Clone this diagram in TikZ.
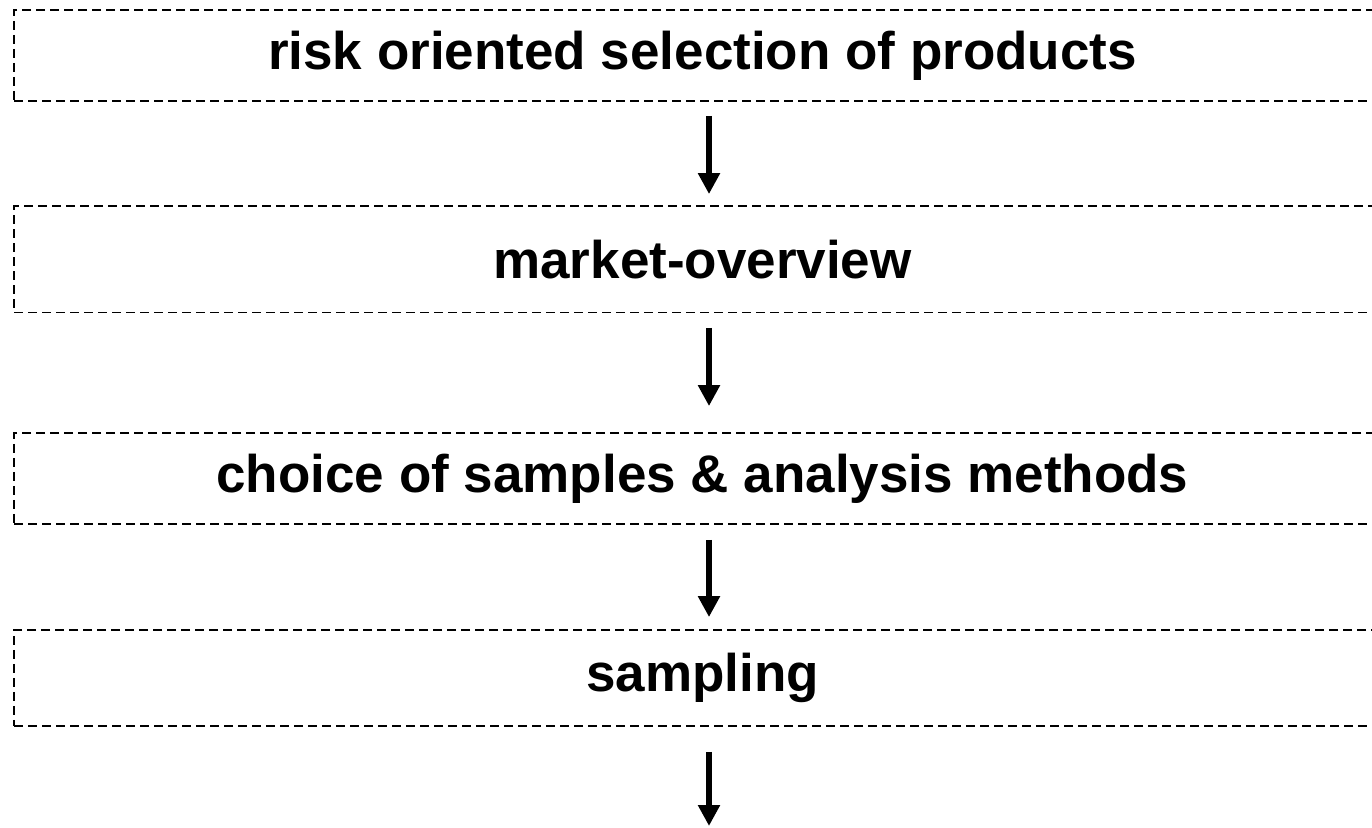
\documentclass[tikz,border=0pt]{standalone}
\usepackage{fontspec}
\setmainfont{Liberation Sans}
\usetikzlibrary{arrows.meta}

\begin{document}
\begin{tikzpicture}[x=1pt, y=1pt,
    box/.style={draw, line width=1.8pt, dash pattern=on 9pt off 5pt, minimum width=1377pt, inner sep=0pt,
        font=\fontsize{53}{60}\selectfont\bfseries},
    flow/.style={line width=6pt, -{Triangle[length=21pt, width=21pt]}}]

    % Seitenrahmen
    \useasboundingbox (0,0) rectangle (1372,827);

    % die vier Kaesten
    \node[box, minimum height=91pt] (b1) at (702.5,771.5) {risk oriented selection of products};
    \node[box, minimum height=106.5pt] (b2) at (702.5,567.75) {market-overview};
    \node[box, minimum height=91pt] (b3) at (702.5,348.5) {choice of samples \& analysis methods};
    \node[box, minimum height=96pt] (b4) at (702.5,149) {sampling};

    % Achse der Pfeile und Ende unten
    \coordinate (ax) at (709,0);
    \coordinate (bottom) at (709,1);

    % Pfeile
    \draw[flow, shorten <=14pt, shorten >=11pt] (b1.south -| ax) -- (b2.north -| ax);
    \draw[flow, shorten <=14.5pt, shorten >=26pt] (b2.south -| ax) -- (b3.north -| ax);
    \draw[flow, shorten <=15pt, shorten >=12pt] (b3.south -| ax) -- (b4.north -| ax);
    \draw[flow, shorten <=25pt] (b4.south -| ax) -- (bottom);

\end{tikzpicture}
\end{document}
